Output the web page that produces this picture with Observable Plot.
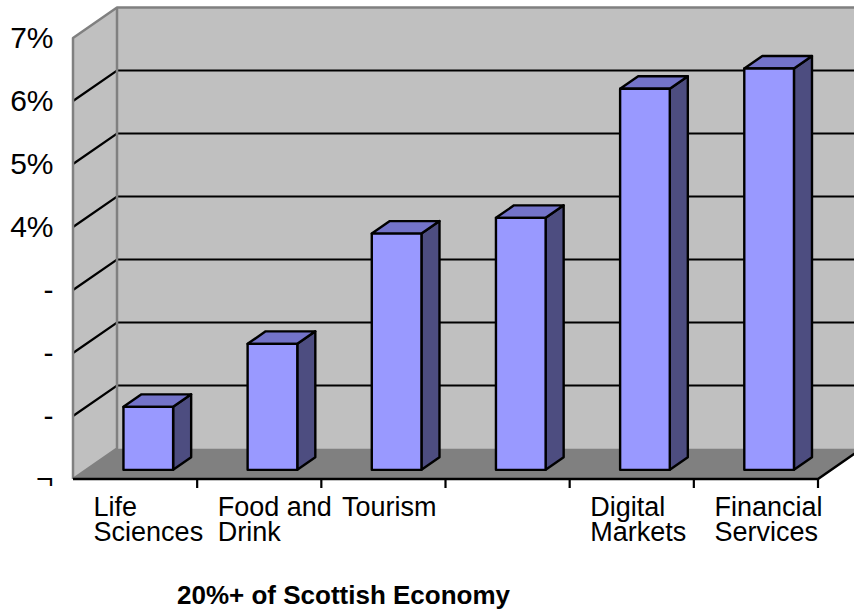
<!DOCTYPE html>
<html><head><meta charset="utf-8">
<script src="https://cdn.jsdelivr.net/npm/d3@7"></script>
<script src="https://cdn.jsdelivr.net/npm/@observablehq/plot@0.6"></script>
<style>
html,body{margin:0;padding:0;background:#fff;overflow:hidden;width:854px;height:616px}
#chart{position:relative;width:854px;height:616px}
#title{position:absolute;left:177px;top:582px;font:bold 26px "Liberation Sans",Arial,sans-serif;line-height:1;color:#000;white-space:nowrap}
svg{display:block}
</style></head><body>
<div id="chart"><div id="title">20%+ of Scottish Economy</div></div>
<script>
const categories = ["Life Sciences","Food and Drink","Tourism","","Digital Markets","Financial Services"];
const labels = ["Life\nSciences","Food and\nDrink","Tourism","","Digital\nMarkets","Financial\nServices"];
const values = [1.0, 2.0, 3.75, 4.0, 6.05, 6.37];
const yTickValues = [0,1,2,3,4,5,6,7];
const yTickLabels = ["¬","-","-","-","4%","5%","6%","7%"];
const gridValues = [1,2,3,4,5,6];

const data = categories.map((c,i)=>({category:c, label:labels[i], value:values[i]}));

const W = 854, H = 570;
const depth = [44, -30.5];
const barFront = 0.3, barBack = 0.71, barFrac = 0.4;

function bandwidthOf(x, dim) {
  return (x.bandwidth ? x.bandwidth() : (dim.width - dim.marginLeft - dim.marginRight) / categories.length);
}
function pts(a){ return a.map(p=>p.join(",")).join(" "); }

function walls(index, scales, vals, dim) {
  const x = scales.x, y = scales.y;
  const bw = bandwidthOf(x, dim);
  const x0 = dim.marginLeft, x1 = dim.width - dim.marginRight;
  const [dx, dy] = depth;
  const y0 = y(0), yT = y(7);
  const g = d3.create("svg:g");
  g.append("polygon").attr("points", pts([[x0+dx,yT+dy],[x1+dx,yT+dy],[x1+dx,y0+dy],[x0+dx,y0+dy]])).attr("fill","#c0c0c0");
  g.append("polygon").attr("points", pts([[x0,y0],[x0,yT],[x0+dx,yT+dy],[x0+dx,y0+dy]])).attr("fill","#c0c0c0");
  g.append("polygon").attr("points", pts([[x0,y0],[x1,y0],[x1+dx,y0+dy],[x0+dx,y0+dy]])).attr("fill","#808080");
  for (const v of gridValues) {
    g.append("path").attr("d", `M${x0},${y(v)}L${x0+dx},${y(v)+dy}L${x1+dx},${y(v)+dy}`)
      .attr("fill","none").attr("stroke","#000").attr("stroke-width",2.2);
  }
  g.append("path").attr("d", `M${x0},${y0}L${x0},${yT}L${x0+dx},${yT+dy}L${x1+dx},${yT+dy}M${x0+dx},${yT+dy}L${x0+dx},${y0+dy}L${x0},${y0}`)
    .attr("fill","none").attr("stroke","#808080").attr("stroke-width",2.5).attr("stroke-linejoin","round");
  g.append("path").attr("d", `M${x0},${y0}L${x1},${y0}L${x1+dx},${y0+dy}`)
    .attr("fill","none").attr("stroke","#000").attr("stroke-width",2.5);
  for (const c of categories) {
    const xe = x(c) + bw;
    g.append("line").attr("x1",xe).attr("x2",xe).attr("y1",y0).attr("y2",y0+9)
      .attr("stroke","#000").attr("stroke-width",2.2);
  }
  return g.node();
}

function bars(index, scales, vals, dim) {
  const x = scales.x, y = scales.y;
  const bw = bandwidthOf(x, dim);
  const w = bw*barFrac, inset = (bw-w)/2;
  const fx = depth[0]*barFront, fy = depth[1]*barFront;
  const ddx = depth[0]*(barBack-barFront), ddy = depth[1]*(barBack-barFront);
  const g = d3.create("svg:g").attr("stroke","#000").attr("stroke-width",2.4).attr("stroke-linejoin","round");
  for (const d of data) {
    const xl = x(d.category) + inset + fx, xr = xl + w;
    const yb = y(0) + fy, yt = y(d.value) + fy;
    g.append("polygon").attr("points", pts([[xr,yt],[xr+ddx,yt+ddy],[xr+ddx,yb+ddy],[xr,yb]])).attr("fill","#4d4d80");
    g.append("polygon").attr("points", pts([[xl,yt],[xl+ddx,yt+ddy],[xr+ddx,yt+ddy],[xr,yt]])).attr("fill","#7373c9");
    g.append("rect").attr("x",xl).attr("y",yt).attr("width",w).attr("height",yb-yt).attr("fill","#9999ff");
  }
  return g.node();
}

const plot = Plot.plot({
  width: W, height: H,
  marginLeft: 73, marginRight: 36, marginTop: 38, marginBottom: 91,
  x: {type: "band", domain: categories, padding: 0, round: false, axis: null},
  y: {domain: [0, 7], axis: null},
  style: {background: "transparent", overflow: "hidden", fontFamily: "'Liberation Sans', Arial, sans-serif", color: "#000"},
  marks: [
    walls,
    bars,
    Plot.text(yTickValues, {y: d => d, text: (d, i) => yTickLabels[i], frameAnchor: "left", textAnchor: "end", dx: -20, fontSize: 30, fill: "#000"}),
    Plot.text(data, {x: "category", text: "label", frameAnchor: "bottom", lineAnchor: "top", textAnchor: "start", dx: -42, dy: 18, fontSize: 27, lineHeight: 0.95, fill: "#000"})
  ]
});
document.getElementById("chart").prepend(plot);
</script>
</body></html>
